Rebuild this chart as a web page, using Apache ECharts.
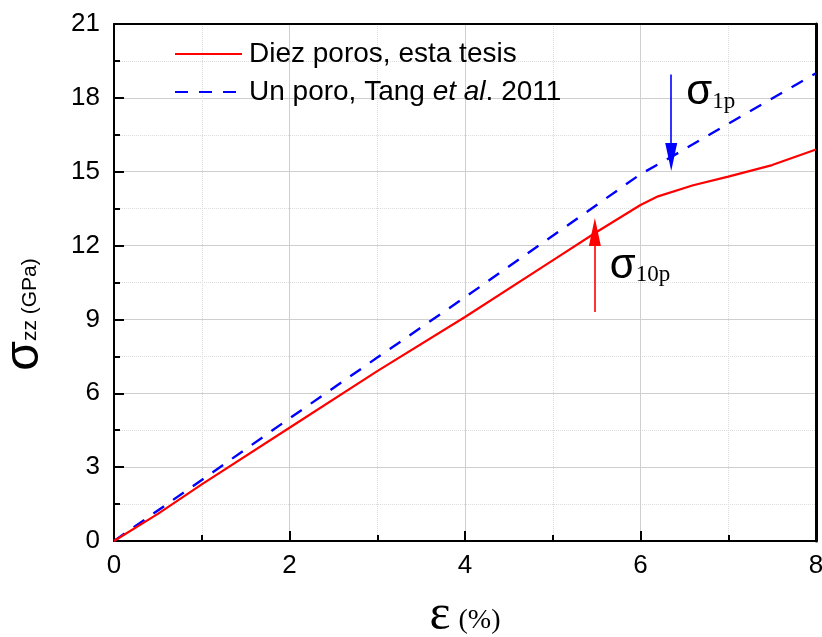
<!DOCTYPE html>
<html><head><meta charset="utf-8">
<script src="https://cdn.jsdelivr.net/npm/echarts@6/dist/echarts.min.js"></script>
<style>html,body{margin:0;padding:0;background:#fff}#c{width:822px;height:637px}</style>
</head><body><div id="c"></div>
<script>
const redX = [0, 0.5, 1, 2, 3, 4, 5, 5.5, 6, 6.2, 6.6, 7, 7.5, 8];
const redY = [0, 1.1, 2.3, 4.6, 6.9, 9.1, 11.4, 12.55, 13.65, 14.0, 14.45, 14.8, 15.27, 15.9];
const blueX = [0, 1, 2, 3, 4, 5, 6, 6.35, 7, 8];
const blueY = [0, 2.48, 4.98, 7.45, 9.9, 12.4, 14.9, 15.6, 16.95, 19.0];
const xTicks = [0, 2, 4, 6, 8];
const yTicks = [0, 3, 6, 9, 12, 15, 18, 21];
const seriesNames = ['Diez poros, esta tesis', 'Un poro, Tang et al. 2011'];
// annotation arrows [x, yStart, yEnd]
const arrow1p = [6.35, 18.95, 15.6];
const arrow10p = [5.48, 9.3, 12.55];

const chart = echarts.init(document.getElementById('c'));
const axisFont = {fontFamily: 'Liberation Sans, Arial', fontSize: 26, color: '#000'};
const pair = (xs, ys) => xs.map((x, i) => [x, ys[i]]);
chart.setOption({
  animation: false,
  grid: {left: 114, right: 6, top: 24, bottom: 96, outerBoundsMode: 'none', containLabel: false},
  legend: {
    orient: 'vertical', left: 169, top: 35, itemWidth: 67, itemHeight: 14, itemGap: 10,
    data: seriesNames,
    itemStyle: {opacity: 0},
    textStyle: {fontFamily: 'Liberation Sans, Arial', fontSize: 28, color: '#000', padding: [0, 0, 0, 2],
      rich: {i: {fontFamily: 'Liberation Sans, Arial', fontSize: 28, fontStyle: 'italic', color: '#000'}}},
    formatter: n => n.replace('et al', '{i|et al}')
  },
  xAxis: [{
    type: 'value', min: 0, max: 8, interval: 2, position: 'bottom',
    axisLine: {onZero: false, lineStyle: {color: '#000', width: 2}},
    axisTick: {inside: true, length: 10, lineStyle: {color: '#000', width: 2}},
    minorTick: {show: true, splitNumber: 2, length: 6, lineStyle: {color: '#000', width: 2}},
    splitLine: {show: true, lineStyle: {color: '#cfcfcf', width: 1}},
    minorSplitLine: {show: true, lineStyle: {color: '#dcdcdc', width: 1, type: 'dotted'}},
    axisLabel: Object.assign({margin: 12, formatter: v => xTicks.includes(v) ? String(v) : ''}, axisFont),
    name: '{e|ε}{p|(%)}', nameLocation: 'middle', nameGap: 50,
    nameTextStyle: {rich: {
      e: {fontFamily: 'Liberation Serif, Times New Roman', fontSize: 50, color: '#000', padding: [0, 8, 0, 0]},
      p: {fontFamily: 'Liberation Serif, Times New Roman', fontSize: 28, color: '#000', padding: [10, 0, 0, 0]}
    }}
  }, {
    type: 'value', min: 0, max: 8, position: 'top',
    axisLine: {onZero: false, lineStyle: {color: '#000', width: 2}},
    axisTick: {show: false}, axisLabel: {show: false}, splitLine: {show: false}
  }],
  yAxis: [{
    type: 'value', min: 0, max: 21, interval: 3, position: 'left',
    axisLine: {onZero: false, lineStyle: {color: '#000', width: 2}},
    axisTick: {inside: true, length: 10, lineStyle: {color: '#000', width: 2}},
    minorTick: {show: true, splitNumber: 2, length: 6, lineStyle: {color: '#000', width: 2}},
    splitLine: {show: true, lineStyle: {color: '#cfcfcf', width: 1}},
    minorSplitLine: {show: true, lineStyle: {color: '#dcdcdc', width: 1, type: 'dotted'}},
    axisLabel: Object.assign({margin: 14, formatter: v => yTicks.includes(v) ? String(v) : ''}, axisFont),
    name: '{s|σ}{z|zz (GPa)}', nameLocation: 'middle', nameGap: 65, nameRotate: 90,
    nameTextStyle: {padding: [0, 64, 0, 0], rich: {
      s: {fontFamily: 'Liberation Sans, Arial', fontSize: 48, color: '#000'},
      z: {fontFamily: 'Liberation Sans, Arial', fontSize: 21, color: '#000', padding: [10, 0, 0, 0]}
    }}
  }, {
    type: 'value', min: 0, max: 21, position: 'right',
    axisLine: {onZero: false, lineStyle: {color: '#000', width: 3}},
    axisTick: {show: false}, axisLabel: {show: false}, splitLine: {show: false}
  }],
  series: [{
    name: seriesNames[0], type: 'line', data: pair(redX, redY), showSymbol: false, symbol: 'none',
    lineStyle: {color: '#ff0000', width: 2.2}, itemStyle: {color: '#ff0000'}, z: 3,
    markLine: {
      silent: true, symbol: ['none', 'triangle'], symbolSize: [12, 28], animation: false,
      lineStyle: {color: '#ff0000', width: 1.6, type: 'solid'}, label: {show: false},
      data: [[{coord: [arrow10p[0], arrow10p[1]]}, {coord: [arrow10p[0], arrow10p[2]]}]]
    },
    markPoint: {
      silent: true, symbol: 'circle', symbolSize: 0,
      data: [{coord: [arrow10p[0], arrow10p[2]]}],
      label: {show: true, position: 'right', offset: [10, 34], formatter: '{s|σ}{n|10p}',
        rich: {
          s: {fontFamily: 'Liberation Sans, Arial', fontSize: 42, color: '#000'},
          n: {fontFamily: 'Liberation Serif, Times New Roman', fontSize: 23, color: '#000', padding: [18, 0, 0, 0]}
        }}
    }
  }, {
    name: seriesNames[1], type: 'line', data: pair(blueX, blueY), showSymbol: false, symbol: 'none',
    lineStyle: {color: '#0000ff', width: 2.4, type: [13, 11]}, itemStyle: {color: '#0000ff'}, z: 2,
    markLine: {
      silent: true, symbol: ['none', 'triangle'], symbolSize: [12, 28], animation: false,
      lineStyle: {color: '#0000ff', width: 1.6, type: 'solid'}, label: {show: false},
      data: [[{coord: [arrow1p[0], arrow1p[1]]}, {coord: [arrow1p[0], arrow1p[2]]}]]
    },
    markPoint: {
      silent: true, symbol: 'circle', symbolSize: 0,
      data: [{coord: [arrow1p[0], arrow1p[1]]}],
      label: {show: true, position: 'right', offset: [10, 18], formatter: '{s|σ}{n|1p}',
        rich: {
          s: {fontFamily: 'Liberation Sans, Arial', fontSize: 42, color: '#000'},
          n: {fontFamily: 'Liberation Serif, Times New Roman', fontSize: 23, color: '#000', padding: [18, 0, 0, 0]}
        }}
    }
  }]
});
</script></body></html>
